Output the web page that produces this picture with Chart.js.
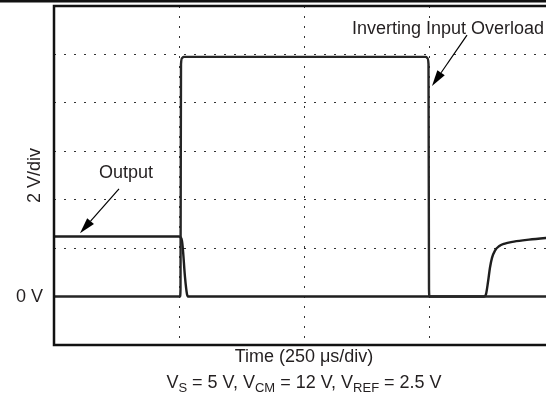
<!DOCTYPE html>
<html>
<head>
<meta charset="utf-8">
<script src="https://cdn.jsdelivr.net/npm/chart.js@4/dist/chart.umd.min.js"></script>
<style>
  html, body { margin: 0; padding: 0; background: #fff; }
  #wrap { position: relative; width: 546px; height: 413px; overflow: hidden; }
  #plot { position: absolute; left: 0; top: 0; }
  .cond {
    position: absolute; left: 0; top: 372px; width: 608px;
    text-align: center; color: #231f20; white-space: nowrap;
    font: 18px "Liberation Sans", Arial, sans-serif;
  }
  .cond sub { font-size: 13px; vertical-align: -4px; line-height: 0; }
</style>
</head>
<body>
<div id="wrap">
  <canvas id="plot" width="560" height="413"></canvas>
  <div class="cond">V<sub>S</sub> = 5 V, V<sub>CM</sub> = 12 V, V<sub>REF</sub> = 2.5 V</div>
</div>
<script>
/* ===============================
   DATA (time in µs, volts)
================================ */
const inputTime  = [0, 252, 253, 254, 256, 259, 744, 747, 749, 750, 751, 1000];
const inputVolts = [0, 0, 0.3, 9.6, 9.85, 9.9, 9.9, 9.85, 9.6, 0.3, 0, 0];

const outputTime  = [0, 250, 253, 256, 258, 262, 266, 269, 860, 864, 868, 872, 876, 882, 890, 900, 920, 950, 1000];
const outputVolts = [2.48, 2.48, 2.45, 2.3, 1.9, 0.8, 0.1, 0, 0, 0.1, 0.6, 1.2, 1.6, 1.9, 2.08, 2.18, 2.27, 2.35, 2.45];

const timeTicks = [0, 250, 500, 750, 1000];   // 250 µs/div
const voltTicks = [-2, 0, 2, 4, 6, 8, 10, 12]; // 2 V/div

const FONT = "'Liberation Sans', Arial, sans-serif";
const INK = "#231f20";

function toPoints(xs, ys) {
    return xs.map((x, i) => ({ x: x, y: ys[i] }));
}

/* ===============================
   FRAME + CALLOUTS
================================ */
function arrow(ctx, x1, y1, x2, y2) {
    const ang = Math.atan2(y2 - y1, x2 - x1);
    const len = 16, half = 4.5;
    const bx = x2 - len * Math.cos(ang), by = y2 - len * Math.sin(ang);
    ctx.beginPath();
    ctx.moveTo(x1, y1);
    ctx.lineTo(bx, by);
    ctx.stroke();
    ctx.beginPath();
    ctx.moveTo(x2, y2);
    ctx.lineTo(bx + half * Math.sin(ang), by - half * Math.cos(ang));
    ctx.lineTo(bx - half * Math.sin(ang), by + half * Math.cos(ang));
    ctx.closePath();
    ctx.fill();
}

function label(ctx, text, px, py) {
    const w = ctx.measureText(text).width;
    ctx.fillStyle = "#fff";
    ctx.fillRect(px - w / 2 - 2, py - 10, w + 4, 20);
    ctx.fillStyle = INK;
    ctx.fillText(text, px, py);
}

const framePlugin = {
    id: "frame",
    afterDraw(chart) {
        const { ctx, chartArea: a, scales: { x, y } } = chart;
        ctx.save();

        // callouts, placed in data units
        ctx.font = "18px " + FONT;
        ctx.textAlign = "center";
        ctx.textBaseline = "middle";
        label(ctx, "Inverting Input Overload", x.getPixelForValue(788), y.getPixelForValue(11.05));
        label(ctx, "Output", x.getPixelForValue(144), y.getPixelForValue(5.1));

        ctx.strokeStyle = "#000";
        ctx.fillStyle = "#000";
        ctx.lineWidth = 1.2;
        arrow(ctx, x.getPixelForValue(826), y.getPixelForValue(10.8),
                   x.getPixelForValue(756), y.getPixelForValue(8.7));
        arrow(ctx, x.getPixelForValue(130), y.getPixelForValue(4.45),
                   x.getPixelForValue(52), y.getPixelForValue(2.62));

        ctx.strokeStyle = "#111";
        ctx.lineWidth = 2.5;
        ctx.beginPath();
        ctx.moveTo(a.right + 4, a.top);
        ctx.lineTo(a.left, a.top);
        ctx.lineTo(a.left, a.bottom);
        ctx.lineTo(a.right + 4, a.bottom);
        ctx.stroke();

        // rule along the very top of the page
        ctx.beginPath();
        ctx.moveTo(0, 1.3);
        ctx.lineTo(chart.width, 1.3);
        ctx.stroke();
        ctx.restore();
    }
};

/* ===============================
   CHART
================================ */
const innerGrid = (lo, hi) => (c) =>
    (c.tick && c.tick.value > lo && c.tick.value < hi) ? "#333" : "rgba(0,0,0,0)";

new Chart(document.getElementById("plot"), {
    type: "line",
    data: {
        datasets: [
            {
                label: "Inverting Input",
                data: toPoints(inputTime, inputVolts),
                borderColor: "#262626",
                borderWidth: 2.4,
                pointRadius: 0,
                cubicInterpolationMode: "monotone"
            },
            {
                label: "Output",
                data: toPoints(outputTime, outputVolts),
                borderColor: "#1e1e1e",
                borderWidth: 2.4,
                pointRadius: 0,
                cubicInterpolationMode: "monotone"
            }
        ]
    },
    options: {
        responsive: false,
        animation: false,
        layout: { padding: { left: 0, top: 6, right: 6, bottom: 0 } },
        plugins: { legend: { display: false }, tooltip: { enabled: false } },
        scales: {
            x: {
                type: "linear",
                min: timeTicks[0],
                max: timeTicks[timeTicks.length - 1],
                afterBuildTicks: (s) => { s.ticks = timeTicks.map(v => ({ value: v })); },
                ticks: { display: false },
                grid: { drawTicks: false, lineWidth: 1, color: innerGrid(timeTicks[0], timeTicks[timeTicks.length - 1]) },
                border: { display: false, dash: [2, 8] },
                title: {
                    display: true,
                    text: "Time (250 μs/div)",
                    color: INK,
                    font: { family: FONT, size: 18 },
                    padding: { top: 0, bottom: 45 }
                },
                afterFit: (s) => { s.height = 68; s.paddingLeft = 0; s.paddingRight = 0; }
            },
            y: {
                min: voltTicks[0],
                max: voltTicks[voltTicks.length - 1],
                afterBuildTicks: (s) => { s.ticks = voltTicks.map(v => ({ value: v })); },
                ticks: {
                    autoSkip: false,
                    padding: 11,
                    color: INK,
                    font: { family: FONT, size: 18 },
                    callback: (v) => (v === 0 ? "0 V" : "")
                },
                grid: { drawTicks: false, lineWidth: 1, color: innerGrid(0, voltTicks[voltTicks.length - 1]) },
                border: { display: false, dash: [2, 8] },
                title: {
                    display: true,
                    text: "2 V/div",
                    color: INK,
                    font: { family: FONT, size: 18 },
                    padding: { top: 24, bottom: 0 }
                },
                afterFit: (s) => { s.width = 54; s.paddingTop = 0; s.paddingBottom = 0; }
            }
        }
    },
    plugins: [framePlugin]
});
</script>
</body>
</html>
